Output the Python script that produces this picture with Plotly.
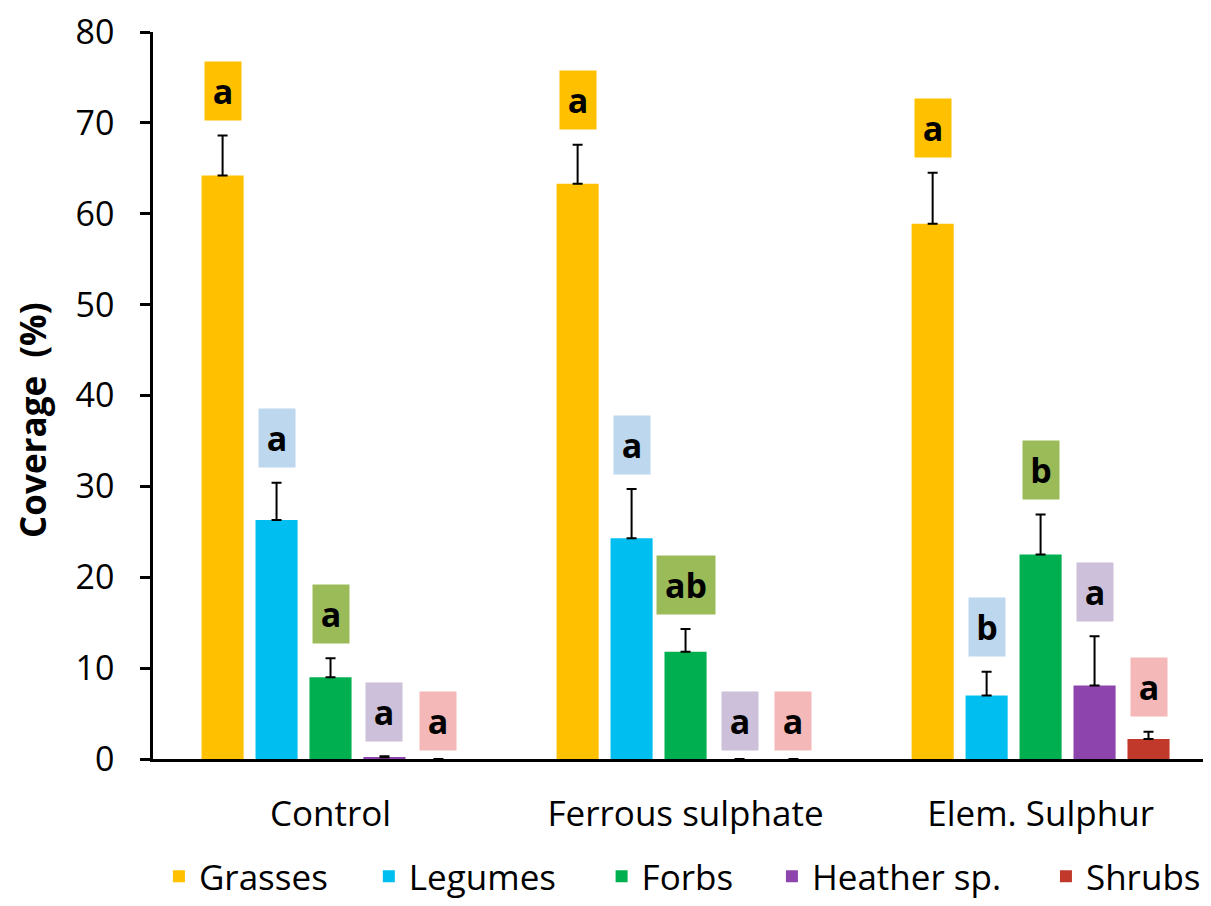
import plotly.graph_objects as go

treatments = ["Control", "Ferrous sulphate", "Elem. Sulphur"]
groups = ["Grasses", "Legumes", "Forbs", "Heather sp.", "Shrubs"]

grasses_mean = [64.2, 63.3, 58.9]
grasses_err = [4.4, 4.3, 5.6]
legumes_mean = [26.3, 24.3, 7.0]
legumes_err = [4.1, 5.4, 2.6]
forbs_mean = [9.0, 11.8, 22.5]
forbs_err = [2.1, 2.5, 4.4]
heather_mean = [0.2, 0.0, 8.1]
heather_err = [0.1, 0.0, 5.4]
shrubs_mean = [0.0, 0.0, 2.2]
shrubs_err = [0.0, 0.0, 0.8]

grasses_letters = ["a", "a", "a"]
legumes_letters = ["a", "a", "b"]
forbs_letters = ["a", "ab", "b"]
heather_letters = ["a", "a", "a"]
shrubs_letters = ["a", "a", "a"]

bar_colors = ["#FFC000", "#00BFF0", "#00B050", "#8E44AD", "#C0392B"]
box_colors = ["#FFC000", "#BDD7EE", "#9BBB59", "#CCC0DA", "#F4B8B8"]
legend_x = [0.0056, 0.204, 0.424, 0.585, 0.844]

series = [
    (grasses_mean, grasses_err, grasses_letters),
    (legumes_mean, legumes_err, legumes_letters),
    (forbs_mean, forbs_err, forbs_letters),
    (heather_mean, heather_err, heather_letters),
    (shrubs_mean, shrubs_err, shrubs_letters),
]

FONT = "Open Sans"
bargap = 0.24
bargroupgap = 0.22
slot = (1 - bargap) / len(groups)
xpos = list(range(len(treatments)))

fig = go.Figure()
annotations = []
legends = {}
for j, (name, (m, e, letters)) in enumerate(zip(groups, series)):
    lg = "legend" if j == 0 else f"legend{j + 1}"
    fig.add_trace(go.Bar(
        x=xpos, y=m, name=name, legend=lg,
        marker=dict(color=bar_colors[j], line=dict(width=0)),
        error_y=dict(type="data", array=e, arrayminus=[0] * len(e), symmetric=False,
                     color="black", thickness=2, width=5),
    ))
    legends[lg] = dict(orientation="h", x=legend_x[j], xanchor="left",
                       yref="container", y=0.0, yanchor="bottom",
                       bgcolor="rgba(0,0,0,0)",
                       font=dict(family=FONT, size=35, color="black"))
    for i in xpos:
        top = m[i] + e[i]
        bottom = top + 1.6 if top > 0 else 0.9
        lt = letters[i]
        annotations.append(dict(
            x=i + (j - 2) * slot, y=bottom, xref="x", yref="y",
            yanchor="bottom", xanchor="center",
            text=f"<b>{lt}</b>", showarrow=False,
            bgcolor=box_colors[j], borderpad=0,
            width=36 if len(lt) == 1 else 58, height=58,
            font=dict(family=FONT, size=34, color="black"),
        ))

# y-axis title (rotated annotation, slightly below the axis centre as in the original)
annotations.append(dict(
    x=-0.1134, y=0.465, xref="paper", yref="paper", xanchor="center", yanchor="middle",
    text="<b>Coverage\u00a0 (%)</b>", textangle=-90, showarrow=False,
    font=dict(family=FONT, size=35, color="black"),
))

fig.update_layout(
    width=1203, height=898,
    margin=dict(l=145, r=0, t=24, b=147),
    plot_bgcolor="white", paper_bgcolor="white",
    barmode="group", bargap=bargap, bargroupgap=bargroupgap,
    font=dict(family=FONT, color="black"),
    annotations=annotations,
    showlegend=True,
    xaxis=dict(range=[-0.5, 2.48], tickvals=xpos, ticktext=treatments,
               showline=True, linecolor="black", linewidth=3, ticks="",
               showgrid=False, zeroline=False, ticklabelstandoff=22, automargin=False,
               tickfont=dict(family=FONT, size=35, color="black")),
    yaxis=dict(range=[0, 80], dtick=10, tick0=0, ticks="outside", ticklen=10,
               tickwidth=2.5, tickcolor="black", showline=True, linecolor="black",
               linewidth=2.5, showgrid=False, zeroline=False, ticklabelstandoff=19,
               automargin=False, ticklabeloverflow="allow",
               tickfont=dict(family=FONT, size=34, color="black")),
)
fig.update_layout(**legends)

fig.write_html("out.html")
